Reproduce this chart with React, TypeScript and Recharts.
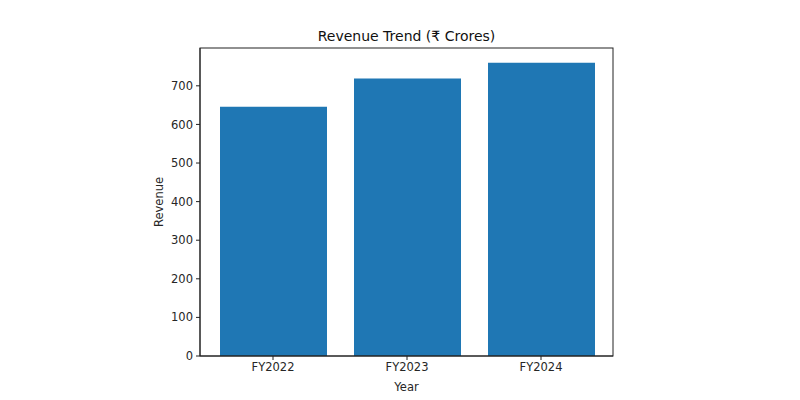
import React from "react";
import { BarChart, Bar, XAxis, YAxis } from "recharts";

const years = ["FY2022", "FY2023", "FY2024"];
const revenue = [646, 719, 760];
const yTicks = [0, 100, 200, 300, 400, 500, 600, 700];

const data = years.map((y, i) => ({ year: y, revenue: revenue[i] }));

const FONT = "DejaVu Sans";
const TXT = "#262626";

const YLabel = (props: any) => {
  const vb = props.viewBox || {};
  const cx = 159;
  const cy = vb.y + vb.height / 2;
  return (
    <text x={cx} y={cy} transform={`rotate(-90, ${cx}, ${cy})`} textAnchor="middle" dominantBaseline="central"
      fontFamily={FONT} fontSize={11.5} fill={TXT}>Revenue</text>
  );
};

export default function App() {
  return (
    <div style={{ position: "absolute", left: 0, top: 0, width: 800, height: 400, background: "#fff" }}>
      <div style={{ position: "absolute", left: 200, width: 413, top: 26, textAlign: "center", fontFamily: FONT, fontSize: 14, color: "#111", lineHeight: "20px" }}>
        Revenue Trend (₹ Crores)
      </div>
      <BarChart width={800} height={400} data={data} margin={{ top: 48, right: 187, left: 0, bottom: 0 }}>
        <XAxis dataKey="year" height={44} padding={{ left: 6, right: 5 }}
          tickSize={4} tickMargin={3} axisLine={{ stroke: "#222" }} tickLine={{ stroke: "#222" }}
          tick={{ fontFamily: FONT, fontSize: 11.5, fill: TXT }}
          label={{ value: "Year", position: "insideBottom", offset: 9, fontFamily: FONT, fontSize: 11.5, fill: TXT }} />
        <YAxis width={200} domain={[0, 798]} ticks={yTicks} allowDataOverflow
          tickSize={4} tickMargin={3} axisLine={{ stroke: "#222" }} tickLine={{ stroke: "#222" }}
          tick={{ fontFamily: FONT, fontSize: 11.5, fill: TXT }} label={<YLabel />} />
        <Bar dataKey="revenue" fill="#1f77b4" barSize={107} isAnimationActive={false} />
      </BarChart>
      <svg width={800} height={400} style={{ position: "absolute", left: 0, top: 0, pointerEvents: "none" }}>
        <rect x={200} y={48} width={413} height={308} fill="none" stroke="#222" strokeWidth={1} />
      </svg>
    </div>
  );
}
